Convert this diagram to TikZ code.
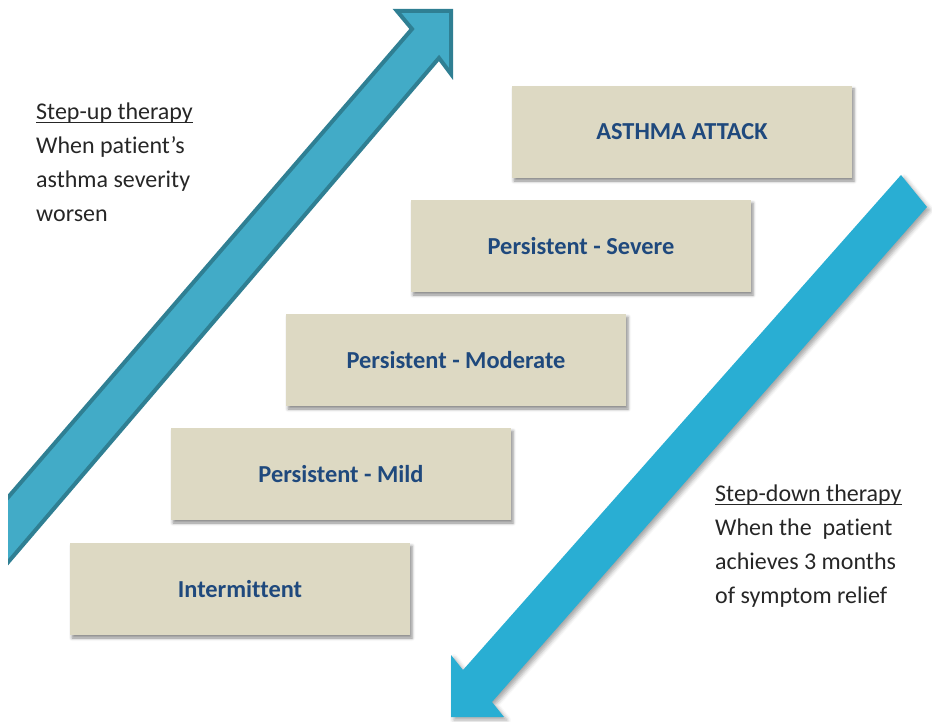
\documentclass[tikz,border=0pt]{standalone}
\usepackage{fontspec}
\setmainfont[Ligatures=NoCommon]{Carlito}
\usetikzlibrary{shadows.blur}

\definecolor{boxfill}{HTML}{DDD9C3}
\definecolor{boxtext}{HTML}{1F497D}
\definecolor{bodytext}{HTML}{262626}
\definecolor{upfill}{HTML}{42ABC7}
\definecolor{upline}{HTML}{2F7F93}
\definecolor{downfill}{HTML}{29AED3}

% underline that crosses the descenders, as a word processor draws it
\newsavebox{\ulinebox}
\newcommand{\wpunderline}[1]{%
  \sbox{\ulinebox}{#1}%
  \rlap{\rule[-3pt]{\wd\ulinebox}{1.2pt}}\usebox{\ulinebox}}

\tikzset{
  stage/.style={
    rectangle, fill=boxfill, minimum width=340pt, minimum height=92pt,
    inner sep=0pt, text=boxtext,
    font=\fontsize{24.4}{29}\selectfont\bfseries,
    blur shadow={shadow xshift=2pt, shadow yshift=-3pt,
                 shadow blur radius=3pt, shadow opacity=45}
  },
  note/.style={
    anchor=north west, inner sep=0pt, align=left, text=bodytext,
    font=\fontsize{24}{33.8}\selectfont
  }
}

\begin{document}
\begin{tikzpicture}[x=1pt, y=-1pt]
  \useasboundingbox (0,0) rectangle (932,722);

  % step-up arrow: filled body, outline on all edges except the cut tail
  \fill[upfill] (8,497) -- (412,29) -- (397,11) -- (451,11) -- (451,74)
        -- (439,58) -- (8,562) -- cycle;
  \begin{scope}
    \clip (8,0) rectangle (932,722);
    \draw[upline, line width=4pt, line join=miter]
      (-2,574) -- (439,58) -- (451,74) -- (451,11) -- (397,11)
      -- (412,29) -- (-2,509);
  \end{scope}

  % step-down arrow
  \fill[downfill, blur shadow={shadow xshift=3pt, shadow yshift=-3pt,
        shadow blur radius=4pt, shadow opacity=35}]
    (901,175) -- (927,207) -- (492,702) -- (504,717) -- (451,717)
    -- (451,655) -- (463,670) -- cycle;

  % severity steps
  \node[stage] (attack)       at (682,132) {ASTHMA ATTACK};
  \node[stage] (severe)       at (581,246) {Persistent - Severe};
  \node[stage] (moderate)     at (456,360) {Persistent - Moderate};
  \node[stage] (mild)         at (341,474) {Persistent - Mild};
  \node[stage] (intermittent) at (240,589) {Intermittent};

  % side notes
  \node[note] (stepup) at (36,103)
    {\wpunderline{Step-up therapy}\\When patient’s\\asthma severity\\worsen};
  \node[note] (stepdown) at (715,485)
    {\wpunderline{Step-down therapy}\\When the\ \ patient\\achieves 3 months\\of symptom relief};
\end{tikzpicture}
\end{document}
